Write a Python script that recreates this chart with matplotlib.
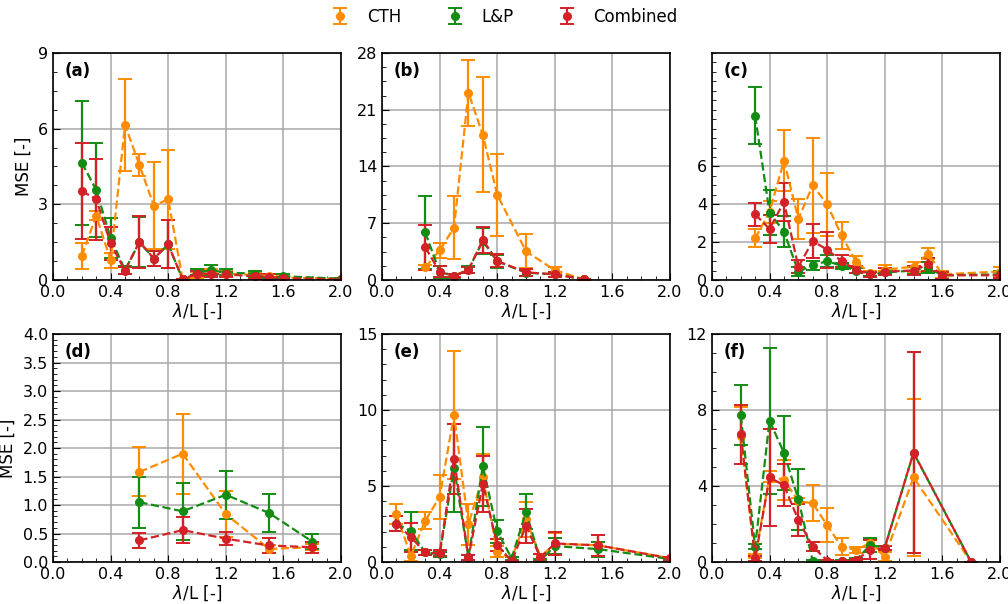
import numpy as np
import matplotlib
matplotlib.use("Agg")
import matplotlib.pyplot as plt
from matplotlib.ticker import AutoMinorLocator

# Wavelength ratio (lambda/L) and MSE values per case; errors are +/- one std
x_a = [0.2, 0.3, 0.4, 0.5, 0.6, 0.7, 0.8, 0.9, 1.0, 1.1, 1.2, 1.4, 1.5, 1.6, 2.0]
cth_a = [0.96, 2.55, 0.78, 6.15, 4.56, 2.95, 3.2, 0.03, 0.2, 0.3, 0.25, 0.2, 0.15, 0.1, 0.05]
cth_a_err = [0.52, 0.18, 0.3, 1.83, 0.42, 1.72, 1.97, 0.03, 0.12, 0.15, 0.12, 0.1, 0.1, 0.06, 0.03]
lp_a = [4.65, 3.57, 1.66, 0.4, 1.5, 0.85, 1.41, 0.03, 0.3, 0.38, 0.3, 0.25, 0.02, 0.15, 0.05]
lp_a_err = [2.45, 1.85, 0.8, 0.15, 1.0, 0.3, 0.95, 0.03, 0.12, 0.2, 0.12, 0.12, 0.02, 0.1, 0.03]
comb_a = [3.53, 3.2, 1.45, 0.37, 1.52, 0.85, 1.41, 0.03, 0.25, 0.25, 0.22, 0.15, 0.12, 0.08, 0.02]
comb_a_err = [1.9, 1.6, 0.65, 0.15, 1.03, 0.3, 0.95, 0.02, 0.1, 0.12, 0.1, 0.1, 0.1, 0.05, 0.02]

x_b = [0.3, 0.4, 0.5, 0.6, 0.7, 0.8, 1.0, 1.2, 1.4]
cth_b = [1.56, 3.66, 6.46, 23.1, 17.9, 10.5, 3.54, 1.2, 0.1]
cth_b_err = [0.3, 0.95, 3.85, 4.05, 7.1, 5.05, 2.1, 0.45, 0.05]
lp_b = [5.88, 1.0, 0.5, 1.3, 4.8, 2.3, 0.9, 0.7, 0.1]
lp_b_err = [4.5, 0.7, 0.2, 0.4, 1.6, 0.8, 0.4, 0.3, 0.05]
comb_b = [4.03, 1.03, 0.53, 1.23, 4.94, 2.35, 0.95, 0.7, 0.1]
comb_b_err = [2.8, 0.65, 0.2, 0.4, 1.6, 0.8, 0.45, 0.3, 0.05]

x_c = [0.3, 0.4, 0.5, 0.6, 0.7, 0.8, 0.9, 1.0, 1.1, 1.2, 1.4, 1.5, 1.6, 2.0]
cth_c = [2.2, 3.6, 6.31, 3.23, 5.0, 4.0, 2.36, 0.97, 0.35, 0.55, 0.7, 1.4, 0.3, 0.45]
cth_c_err = [0.48, 0.6, 1.6, 1.05, 2.5, 1.65, 0.7, 0.3, 0.15, 0.25, 0.25, 0.3, 0.2, 0.25]
lp_c = [8.68, 3.56, 2.56, 0.44, 0.78, 1.0, 0.75, 0.5, 0.3, 0.4, 0.5, 0.65, 0.25, 0.3]
lp_c_err = [1.5, 1.2, 0.8, 0.25, 0.25, 0.3, 0.15, 0.15, 0.1, 0.1, 0.2, 0.3, 0.2, 0.2]
comb_c = [3.47, 2.7, 4.13, 0.7, 2.06, 1.6, 1.0, 0.55, 0.3, 0.45, 0.5, 0.82, 0.25, 0.25]
comb_c_err = [0.6, 0.75, 1.0, 0.35, 0.9, 0.95, 0.3, 0.2, 0.15, 0.2, 0.25, 0.35, 0.2, 0.15]

x_d = [0.6, 0.9, 1.2, 1.5, 1.8]
cth_d = [1.58, 1.9, 0.84, 0.23, 0.26]
cth_d_err = [0.43, 0.7, 0.4, 0.07, 0.05]
lp_d = [1.05, 0.89, 1.18, 0.86, 0.36]
lp_d_err = [0.45, 0.5, 0.42, 0.33, 0.13]
comb_d = [0.38, 0.56, 0.41, 0.29, 0.26]
comb_d_err = [0.13, 0.23, 0.11, 0.13, 0.1]

x_e = [0.1, 0.2, 0.3, 0.4, 0.5, 0.6, 0.7, 0.8, 0.9, 1.0, 1.1, 1.2, 1.5, 2.0]
cth_e = [3.14, 0.41, 2.71, 4.28, 9.67, 2.49, 5.59, 0.68, 0.2, 2.82, 0.35, 1.2, 1.1, 0.25]
cth_e_err = [0.65, 0.35, 0.55, 1.45, 4.2, 1.35, 1.5, 0.35, 0.1, 1.15, 0.2, 0.7, 0.7, 0.1]
lp_e = [2.53, 2.03, 0.63, 0.5, 6.2, 0.31, 6.31, 2.01, 0.25, 3.3, 0.1, 1.05, 0.85, 0.2]
lp_e_err = [0.5, 1.27, 0.15, 0.15, 2.9, 0.15, 2.6, 0.75, 0.1, 1.15, 0.1, 0.5, 0.5, 0.1]
comb_e = [2.53, 1.64, 0.63, 0.57, 6.8, 0.3, 5.15, 1.14, 0.05, 2.38, 0.3, 1.22, 1.1, 0.25]
comb_e_err = [0.5, 0.95, 0.15, 0.2, 2.3, 0.15, 1.85, 0.4, 0.05, 1.1, 0.2, 0.75, 0.7, 0.1]

x_f = [0.2, 0.3, 0.4, 0.5, 0.6, 0.7, 0.8, 0.9, 1.0, 1.1, 1.2, 1.4, 1.8]
cth_f = [6.65, 0.3, 4.5, 4.33, 3.2, 3.09, 1.93, 0.81, 0.63, 1.0, 0.28, 4.45, 0.0]
cth_f_err = [1.5, 0.1, 0.3, 1.05, 0.15, 0.95, 0.9, 0.45, 0.15, 0.2, 0.25, 4.15, 0.0]
lp_f = [7.72, 0.81, 7.44, 5.75, 3.3, 0.05, 0.0, 0.05, 0.1, 0.9, 0.75, 5.75, 0.0]
lp_f_err = [1.58, 0.15, 3.85, 1.95, 1.6, 0.05, 0.0, 0.05, 0.1, 0.35, 0.1, 5.3, 0.0]
comb_f = [6.72, 0.19, 4.45, 4.04, 2.21, 0.81, 0.08, 0.03, 0.1, 0.65, 0.75, 5.76, 0.0]
comb_f_err = [1.57, 0.15, 2.55, 1.1, 0.85, 0.25, 0.05, 0.03, 0.05, 0.5, 0.1, 5.3, 0.0]

series_names = ["CTH", "L&P", "Combined"]
colors = ["#ff8c00", "#138c13", "#d42027"]

eb_style = dict(markersize=5.5, linewidth=1.6, elinewidth=1.6, capsize=5, capthick=1.4)


def draw_panel(ax, x, cth, cth_err, lp, lp_err, comb, comb_err, label, ymax, yticks):
    """Plot the three MSE series with error bars on one axis."""
    for y, err, name, c in zip([cth, lp, comb], [cth_err, lp_err, comb_err],
                               series_names, colors):
        ax.errorbar(x, y, yerr=err, fmt='o--', color=c, ecolor=c, label=name, **eb_style)

    ax.set_xlim(0, 2.0)
    ax.set_ylim(0, ymax)
    ax.set_xticks(np.arange(0, 2.01, 0.4))
    ax.set_yticks(yticks)
    ax.xaxis.set_minor_locator(AutoMinorLocator())
    ax.yaxis.set_minor_locator(AutoMinorLocator())
    ax.tick_params(which='both', direction='in', labelsize=11.5)
    ax.tick_params(which='major', length=5)
    ax.tick_params(which='minor', length=3)
    ax.grid(True, which='major', color='#a8a8a8', linewidth=1.1)
    ax.set_axisbelow(True)
    for s in ax.spines.values():
        s.set_linewidth(1.2)
    ax.set_xlabel(r'$\lambda$/L [-]', fontsize=12, labelpad=1)
    ax.text(0.04, 0.96, label, transform=ax.transAxes, fontsize=12,
            fontweight='bold', va='top', ha='left')


def main():
    fig = plt.figure(figsize=(10.08, 6.04), dpi=100)

    lefts = [0.0526, 0.379, 0.7063]
    width = 0.2857
    top_row = [0.5364, 0.3759]
    bottom_row = [0.0695, 0.3775]

    panels = [
        (x_a, cth_a, cth_a_err, lp_a, lp_a_err, comb_a, comb_a_err, '(a)', 9, [0, 3, 6, 9]),
        (x_b, cth_b, cth_b_err, lp_b, lp_b_err, comb_b, comb_b_err, '(b)', 28, [0, 7, 14, 21, 28]),
        (x_c, cth_c, cth_c_err, lp_c, lp_c_err, comb_c, comb_c_err, '(c)', 12, [0, 2, 4, 6]),
        (x_d, cth_d, cth_d_err, lp_d, lp_d_err, comb_d, comb_d_err, '(d)', 4, np.arange(0, 4.01, 0.5)),
        (x_e, cth_e, cth_e_err, lp_e, lp_e_err, comb_e, comb_e_err, '(e)', 15, [0, 5, 10, 15]),
        (x_f, cth_f, cth_f_err, lp_f, lp_f_err, comb_f, comb_f_err, '(f)', 12, [0, 4, 8, 12]),
    ]

    first_ax = None
    for i, p in enumerate(panels):
        row = top_row if i < 3 else bottom_row
        ax = fig.add_axes([lefts[i % 3], row[0], width, row[1]])
        draw_panel(ax, *p)
        if i == 3:
            ax.yaxis.set_major_formatter(plt.FormatStrFormatter('%.1f'))
        if i % 3 == 0:
            ax.set_ylabel('MSE [-]', fontsize=12)
        if first_ax is None:
            first_ax = ax

    # legend entries: marker with error bar only, no connecting line
    handles = []
    for name, c in zip(series_names, colors):
        h = first_ax.errorbar([np.nan], [np.nan], yerr=[1], fmt='o', color=c,
                              ecolor=c, **eb_style)
        handles.append(h)

    fig.legend(handles, series_names, loc='upper center', ncol=3,
               bbox_to_anchor=(0.5, 1.012), frameon=False, fontsize=12,
               columnspacing=2.6, handletextpad=1.0, handlelength=1.2)

    fig.savefig('out.png', dpi=100)


if __name__ == '__main__':
    main()
